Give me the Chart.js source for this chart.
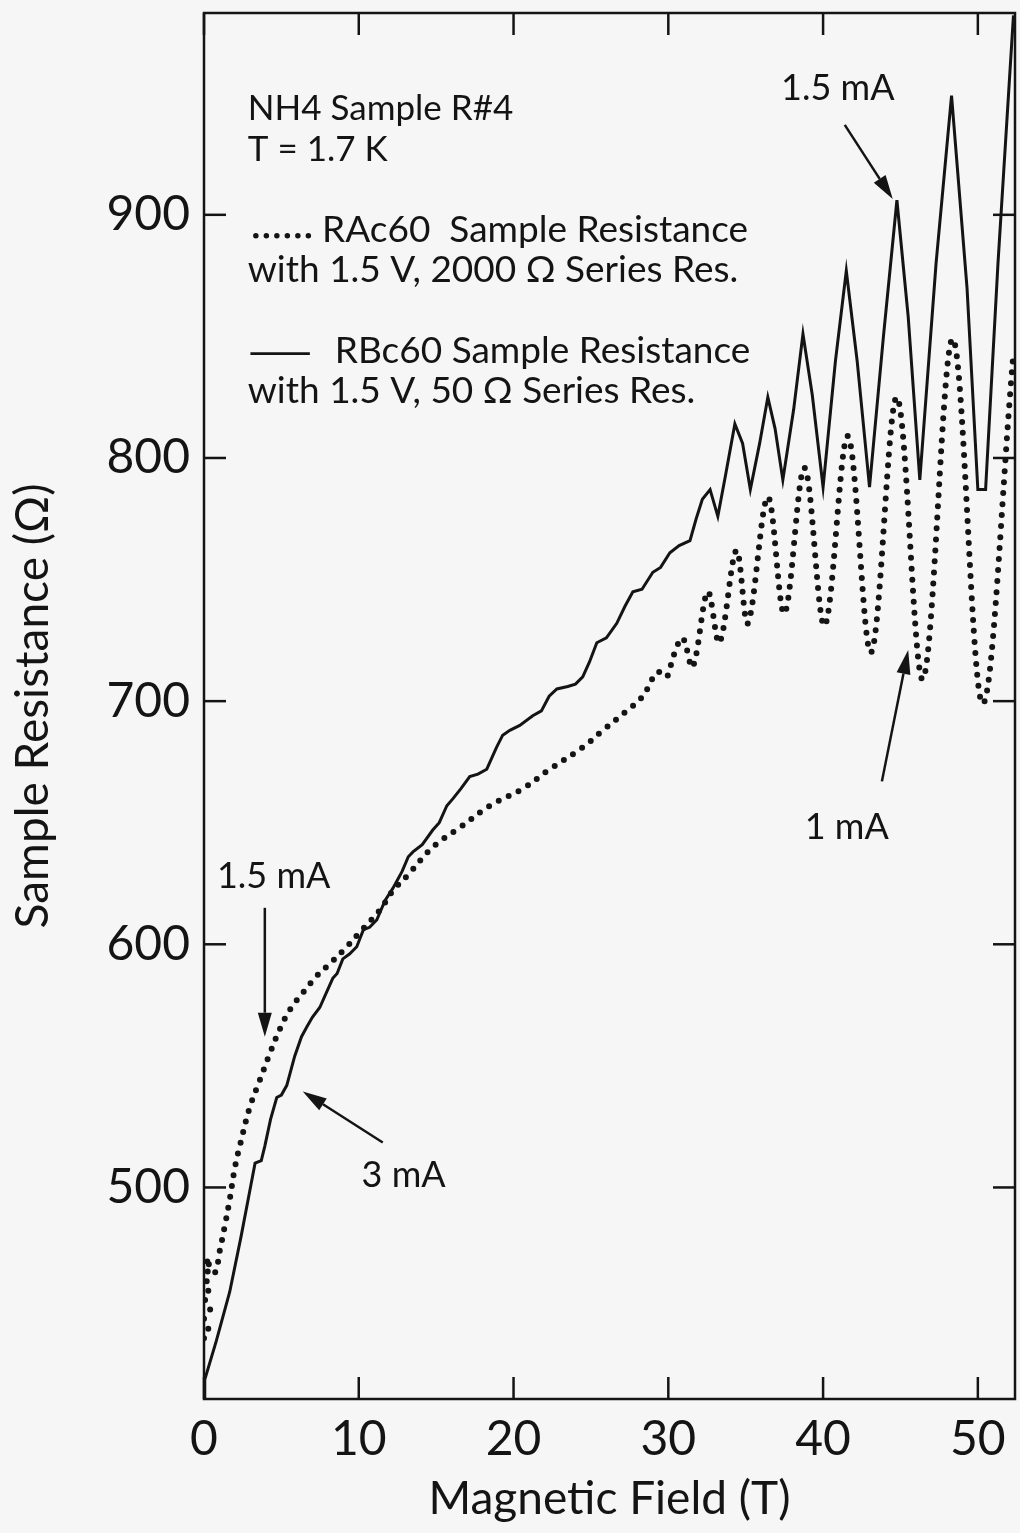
<!DOCTYPE html>
<html>
<head>
<meta charset="utf-8">
<script src="https://cdn.jsdelivr.net/npm/chart.js@4"></script>
<style>
  html, body { margin: 0; padding: 0; background: #f6f6f6; }
  #wrap { width: 1020px; height: 1533px; position: relative; }
</style>
</head>
<body>
<div id="wrap"><canvas id="c" width="1020" height="1533"></canvas></div>
<script>
// ---- Data ----
// RBc60 (solid line): magnetic field (T) and resistance (Ohm)
const solidField = [0, 0.05, 0.8, 1.66, 2.4, 3.0, 3.3, 3.7, 3.93, 4.3, 4.7, 5.0, 5.35, 5.86, 6.3, 6.64, 7.0, 7.48, 7.9, 8.32, 8.6, 8.97, 9.4, 9.87, 10.3, 10.7, 11.16, 11.7, 12.2, 12.8, 13.2, 13.5, 14.1, 14.78, 15.2, 15.69, 16.1, 16.6, 17.17, 17.7, 18.27, 18.9, 19.3, 19.76, 20.4, 21.24, 21.8, 22.3, 22.8, 23.5, 24.0, 24.47, 24.9, 25.38, 26.0, 26.67, 27.2, 27.71, 28.3, 29.0, 29.5, 30.1, 30.7, 31.4, 31.8, 32.2, 32.7, 33.2, 33.7, 34.3, 34.8, 35.3, 35.9, 36.43, 36.9, 37.4, 38.1, 38.7, 39.3, 40.0, 40.8, 41.5, 42.2, 43.0, 43.9, 44.77, 45.5, 46.25, 47.3, 48.3, 49.3, 50.0, 50.5, 51.3, 52.3];
const solidRes = [413, 421, 437, 457, 480, 500, 510, 511, 517, 528, 537, 538, 542, 554, 562, 566, 570, 574, 580, 586, 588, 594, 596, 599, 606, 607, 610, 618, 623, 630, 636, 638, 641, 647, 650, 657, 660, 664, 669, 670, 672, 681, 686, 688, 690, 694, 696, 702, 705, 706, 707, 710, 716, 724, 726, 732, 739, 745, 746, 753, 755, 761, 764, 766, 775, 783, 787, 776, 793, 814, 806, 787, 806, 825, 812, 791, 820, 851, 826, 788, 840, 877, 840, 788, 850, 906, 858, 791, 880, 949, 870, 787, 787, 880, 982];

// RAc60 (dotted line)
const dottedField = [0.0, 0.3, 0.0, 0.4, 0.0, 0.4, 0.05, 0.35, 0.1, 0.7, 1.02, 1.34, 1.66, 1.99, 2.31, 2.96, 3.6, 4.25, 4.89, 5.54, 6.38, 7.29, 8.13, 9.23, 10.07, 11.36, 12.2, 13.1, 14.79, 16.53, 18.47, 20.6, 22.34, 24.47, 25.77, 27.32, 28.35, 29.3, 29.9, 30.3, 30.92, 31.57, 32.55, 33.3, 34.4, 35.14, 36.43, 37.5, 38.8, 40.1, 41.6, 43.1, 44.77, 46.45, 48.38, 50.3, 52.26];
const dottedRes = [438, 441, 446, 450, 455, 459, 463, 467, 471, 465, 474, 484, 495, 508, 517, 533, 544, 555, 565, 573, 580, 587, 592, 599, 605, 614, 622, 628, 640, 648, 657, 664, 672, 681, 688, 696, 702, 712, 710, 718, 726, 714, 745, 724, 762, 732, 784, 736, 796, 731, 809, 720, 825, 709, 849, 699, 840];

// Axis ticks
const xTicks = [0, 10, 20, 30, 40, 50];
const yTicks = [500, 600, 700, 800, 900];

// Annotation texts and arrows (in data coordinates)
const infoLines = ['NH4 Sample R#4', 'T = 1.7 K'];
const infoPos = [[2.83, 939], [2.83, 922]];
const legendLines = ['RAc60  Sample Resistance', 'with 1.5 V, 2000 \u03A9 Series Res.', 'RBc60 Sample Resistance', 'with 1.5 V, 50 \u03A9 Series Res.'];
const legendPos = [[7.63, 888.9], [2.83, 872.5], [8.45, 839.2], [2.83, 822.7]];
const labelTexts = ['1.5 mA', '1 mA', '1.5 mA', '3 mA'];
const labelPos = [[40.95, 952], [41.53, 648], [4.5, 628], [12.9, 505]];
const arrowFrom = [[41.4, 937], [43.8, 667], [3.93, 615], [11.55, 518.5]];
const arrowTo = [[44.5, 906.5], [45.5, 721], [3.93, 562], [6.38, 539.5]];

const FONT = 'Lato, "Open Sans", "DejaVu Sans", sans-serif';
const INK = '#141414';

const toPts = (xs, ys) => xs.map((v, i) => ({x: v, y: ys[i]}));

const decor = {
  id: 'decor',
  afterDatasetsDraw(chart) {
    const {ctx, chartArea: a, scales: {x, y}} = chart;
    ctx.save();
    ctx.strokeStyle = INK;
    ctx.fillStyle = INK;
    ctx.lineWidth = 2.5;
    ctx.lineCap = 'butt';
    ctx.strokeRect(a.left, a.top, a.right - a.left, a.bottom - a.top);
    const L = 22;
    const seg = (x1, y1, x2, y2) => { ctx.beginPath(); ctx.moveTo(x1, y1); ctx.lineTo(x2, y2); ctx.stroke(); };
    xTicks.forEach(v => {
      const px = x.getPixelForValue(v);
      seg(px, a.bottom, px, a.bottom - L);
      seg(px, a.top, px, a.top + L);
    });
    yTicks.forEach(v => {
      const py = y.getPixelForValue(v);
      seg(a.left, py, a.left + L, py);
      seg(a.right, py, a.right - L, py);
    });

    // info text
    ctx.textAlign = 'left';
    ctx.textBaseline = 'alphabetic';
    ctx.font = '35px ' + FONT;
    infoLines.forEach((t, i) => ctx.fillText(t, x.getPixelForValue(infoPos[i][0]), y.getPixelForValue(infoPos[i][1])));
    ctx.font = '37px ' + FONT;
    legendLines.forEach((t, i) => ctx.fillText(t, x.getPixelForValue(legendPos[i][0]), y.getPixelForValue(legendPos[i][1])));

    // legend samples
    const y1 = y.getPixelForValue(891.4);
    ctx.save();
    ctx.lineWidth = 5.5;
    ctx.lineCap = 'round';
    ctx.setLineDash([0, 10.5]);
    seg(x.getPixelForValue(3.35), y1, x.getPixelForValue(7.1), y1);
    ctx.restore();
    const y2 = y.getPixelForValue(842.9);
    ctx.lineWidth = 2.8;
    seg(x.getPixelForValue(3.0), y2, x.getPixelForValue(6.84), y2);

    // labels
    ctx.textAlign = 'center';
    ctx.textBaseline = 'middle';
    ctx.font = '36px ' + FONT;
    labelTexts.forEach((t, i) => ctx.fillText(t, x.getPixelForValue(labelPos[i][0]), y.getPixelForValue(labelPos[i][1])));

    // arrows
    ctx.lineWidth = 2.5;
    arrowFrom.forEach((f, i) => {
      const x0 = x.getPixelForValue(f[0]), y0 = y.getPixelForValue(f[1]);
      const x1 = x.getPixelForValue(arrowTo[i][0]), y1a = y.getPixelForValue(arrowTo[i][1]);
      const ang = Math.atan2(y1a - y0, x1 - x0);
      const hl = 24, hw = 7;
      const bx = x1 - hl * Math.cos(ang), by = y1a - hl * Math.sin(ang);
      seg(x0, y0, bx, by);
      ctx.beginPath();
      ctx.moveTo(x1, y1a);
      ctx.lineTo(bx + hw * Math.sin(ang), by - hw * Math.cos(ang));
      ctx.lineTo(bx - hw * Math.sin(ang), by + hw * Math.cos(ang));
      ctx.closePath();
      ctx.fill();
    });
    ctx.restore();
  }
};

const bg = {
  id: 'bg',
  beforeDraw(chart) {
    const {ctx, width, height} = chart;
    ctx.save();
    ctx.fillStyle = '#f6f6f6';
    ctx.fillRect(0, 0, width, height);
    ctx.restore();
  }
};

new Chart(document.getElementById('c'), {
  type: 'line',
  data: {
    datasets: [
      {
        label: 'RAc60',
        data: toPts(dottedField, dottedRes),
        borderColor: INK,
        borderWidth: 6,
        borderDash: [0, 11],
        borderCapStyle: 'round',
        pointRadius: 0,
        tension: 0.35,
        fill: false
      },
      {
        label: 'RBc60',
        data: toPts(solidField, solidRes),
        borderColor: INK,
        borderWidth: 3,
        borderJoinStyle: 'miter',
        pointRadius: 0,
        tension: 0,
        fill: false
      }
    ]
  },
  options: {
    responsive: false,
    animation: false,
    devicePixelRatio: 1,
    layout: { padding: { top: 13, right: 5, left: 0, bottom: 0 } },
    plugins: { legend: { display: false }, tooltip: { enabled: false } },
    scales: {
      x: {
        type: 'linear',
        min: 0, max: 52.4,
        grid: { display: false, drawTicks: false },
        border: { display: false },
        afterFit: s => { s.height = 134; s.paddingLeft = 0; s.paddingRight = 0; },
        afterBuildTicks: s => { s.ticks = xTicks.map(v => ({value: v})); },
        ticks: { padding: 12, color: INK, font: { family: FONT, size: 48 }, maxRotation: 0 },
        title: { display: true, text: 'Magnetic Field (T)', color: INK, font: { family: FONT, size: 46 }, padding: { top: 0, bottom: 6 } }
      },
      y: {
        type: 'linear',
        min: 413, max: 983,
        grid: { display: false, drawTicks: false },
        border: { display: false },
        afterFit: s => { s.width = 204; s.paddingTop = 0; s.paddingBottom = 0; },
        afterBuildTicks: s => { s.ticks = yTicks.map(v => ({value: v})); },
        ticks: { padding: 14, color: INK, font: { family: FONT, size: 48 } },
        title: { display: true, text: 'Sample Resistance (\u03A9)', color: INK, font: { family: FONT, size: 46 }, padding: { top: 6, bottom: 0 } }
      }
    }
  },
  plugins: [bg, decor]
});
</script>
</body>
</html>
